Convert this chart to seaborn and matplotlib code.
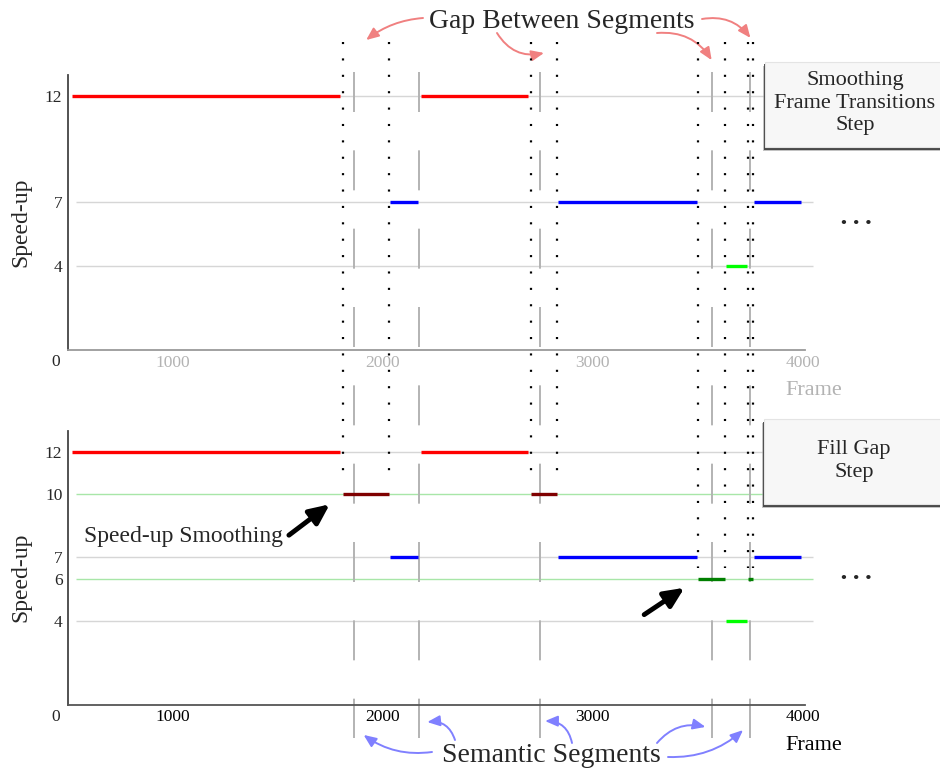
import matplotlib
matplotlib.use("Agg")
import matplotlib.pyplot as plt
import pandas as pd
import seaborn as sns
from matplotlib.patches import Rectangle
from matplotlib.ticker import MultipleLocator

# Semantic segments (frame range) and the speed-up assigned to each
seg_start = [520, 2033, 2180, 2835, 3632, 3765]
seg_end = [1795, 2168, 2690, 3495, 3733, 3992]
seg_speedup = [12, 7, 12, 7, 4, 7]

# Gaps left between segments and the speed-up used to fill them
gap_start = [1810, 2707, 3502, 3737]
gap_end = [2030, 2827, 3629, 3763]
gap_fill = [10, 10, 6, 6]

# Frames where one semantic segment ends and the next begins
boundaries = [1863, 2173, 2748, 3565, 3748]

x_major = [1000, 2000, 3000, 4000]
x_minor = [1500, 2500, 3500]

speed_colors = {12: "#ff0000", 7: "#0000ff", 4: "#00ff00"}
fill_colors = {10: "#7f0000", 6: "#007f00"}

W, H = 940, 771

sns.set_style("white")
plt.rcParams["font.family"] = ["Liberation Serif", "DejaVu Sans"]
plt.rcParams["lines.scale_dashes"] = False
plt.rcParams["lines.solid_capstyle"] = "butt"


def seg_frame(starts, ends, levels, kind):
    rows = []
    for i, (s, e, v) in enumerate(zip(starts, ends, levels)):
        for f in (s, e):
            rows.append({"frame": f, "speedup": v, "key": f"{kind}{v}", "seg": f"{kind}{i}"})
    return pd.DataFrame(rows)


seg_df = seg_frame(seg_start, seg_end, seg_speedup, "s")
fill_df = seg_frame(gap_start, gap_end, gap_fill, "f")
palette = {f"s{k}": c for k, c in speed_colors.items()}
palette.update({f"f{k}": c for k, c in fill_colors.items()})


def fpx(x, y):
    """Figure fraction from a top-left pixel position."""
    return x / W, 1 - y / H


fig = plt.figure(figsize=(W / 100, H / 100), dpi=100)
ax_top = fig.add_axes([68 / W, 1 - 350.5 / H, 737 / W, 275.5 / H])
ax_bot = fig.add_axes([68 / W, 1 - 705 / H, 737 / W, 274 / H])


def style_axes(ax, gray_levels, green_levels, label_color, xspine_color):
    ax.hlines(gray_levels, 540, 4050, colors="#d6d6d6", lw=1.0, zorder=1, clip_on=False)
    if green_levels:
        ax.hlines(green_levels, 540, 4050, colors="#a8e6a8", lw=1.0, zorder=1, clip_on=False)
    for s in ("top", "right"):
        ax.spines[s].set_visible(False)
    ax.spines["left"].set_color("#444444")
    ax.spines["left"].set_linewidth(1.3)
    ax.spines["bottom"].set_color(xspine_color)
    ax.spines["bottom"].set_linewidth(1.3)
    ax.set_yticks(sorted(set(gray_levels) | set(green_levels)))
    ax.yaxis.set_minor_locator(MultipleLocator(1))
    ax.set_xticks(x_major)
    ax.set_xticks(x_minor, minor=True)
    ax.tick_params(which="both", direction="in", length=4, width=1, color="#444444",
                   labelsize=12.5, pad=4)
    ax.tick_params(axis="x", labelcolor=label_color, pad=3)
    ax.set_ylabel("Speed-up", fontsize=17)
    ax.yaxis.set_label_coords(-0.05, 0.466)
    ax.set_xlabel("Frame", fontsize=16, color=label_color)
    ax.xaxis.set_label_coords(1.012, -0.112)
    ax.text(-0.017, -0.043, "0", transform=ax.transAxes, ha="center", va="center",
            fontsize=12.5)


levels = sorted(set(seg_speedup))
style_axes(ax_top, levels, [], "#b3b3b3", "#9a9a9a")
style_axes(ax_bot, levels, sorted(set(gap_fill)), "black", "#555555")

# Speed-up of every segment, before (top) and after (bottom) filling the gaps
sns.lineplot(data=seg_df, x="frame", y="speedup", hue="key", units="seg", estimator=None,
             palette=palette, lw=2.4, legend=False, sort=False, ax=ax_top, zorder=3)
sns.lineplot(data=pd.concat([seg_df, fill_df]), x="frame", y="speedup", hue="key", units="seg",
             estimator=None, palette=palette, lw=2.4, legend=False, sort=False, ax=ax_bot,
             zorder=3)

# Semantic boundaries run through both panels
for b in boundaries:
    ax_bot.plot([b, b], [30.03, -1.565], color="#b3b3b3", lw=1.4, dashes=(28.8, 27.6),
                dash_capstyle="butt", clip_on=False, zorder=2)

# Gap edges, dropped down to the fill speed-up
for s, e, v in zip(gap_start, gap_end, gap_fill):
    for x in (s, e):
        ax_bot.plot([x, x], [31.45, v + 0.5], color="black", lw=1.6, dashes=(1.5, 10.3),
                    dash_capstyle="butt", clip_on=False, zorder=4)

for ax in (ax_top, ax_bot):
    ax.set_xlim(500, 4010)
    ax.set_ylim(0, 13)

# Gap callouts
gap_mid = [(s + e) / 2 for s, e in zip(gap_start, gap_end)]
gap_head_y = [14.65, 14.04, 13.7, 14.75]
gap_tail = [(423, 18), (497, 33), (657, 33), (702, 19)]
gap_rad = [0.15, 0.35, -0.3, -0.3]
for m, hy, t, r in zip(gap_mid, gap_head_y, gap_tail, gap_rad):
    ax_top.annotate("", xy=(m, hy), xycoords="data", xytext=(t[0], H - t[1]),
                    textcoords="figure pixels", annotation_clip=False,
                    arrowprops=dict(arrowstyle="-|>,head_length=0.75,head_width=0.32",
                                    color="#f08080", lw=1.4, shrinkA=0, shrinkB=0,
                                    connectionstyle=f"arc3,rad={r}"))
fig.text(*fpx(561.5, 28), "Gap Between Segments", ha="center", va="baseline", fontsize=20)

# Semantic segment callouts
seg_head_dx = [45, 38, 24, -29, -33]
seg_head_y = [-1.42, -0.81, -0.76, -1.04, -1.19]
seg_tail = [(432, 752), (455, 740), (572, 743), (657, 743), (668, 757)]
seg_rad = [-0.2, 0.4, 0.4, -0.3, 0.2]
for b, dx, hy, t, r in zip(boundaries, seg_head_dx, seg_head_y, seg_tail, seg_rad):
    ax_bot.annotate("", xy=(b + dx, hy), xycoords="data", xytext=(t[0], H - t[1]),
                    textcoords="figure pixels", annotation_clip=False,
                    arrowprops=dict(arrowstyle="-|>,head_length=0.75,head_width=0.32",
                                    color="#8080ff", lw=1.4, shrinkA=0, shrinkB=0,
                                    connectionstyle=f"arc3,rad={r}"))
fig.text(*fpx(551, 762), "Semantic Segments", ha="center", va="baseline", fontsize=20)

# Smoothing arrows
for i, off in ((0, (-39, -29.5)), (2, (-39, -26))):
    ax_bot.annotate("", xy=(gap_start[i], gap_fill[i]), xytext=off, textcoords="offset points",
                    annotation_clip=False,
                    arrowprops=dict(arrowstyle="-|>,head_length=1.2,head_width=0.55",
                                    color="black", lw=3.5, shrinkA=0, shrinkB=12,
                                    mutation_scale=10))
fig.text(*fpx(184, 542), "Speed-up Smoothing", ha="center", va="baseline", fontsize=17)


def step_box(x0, y0, y1, text, cx, cy):
    width = (W - x0 + 10) / W
    height = (y1 - y0) / H
    for dx, dy, col, a in ((-2, 4, "#9a9a9a", 0.6), (-1, 2.5, "#3c3c3c", 0.9)):
        fig.add_artist(Rectangle(fpx(x0 + dx, y1 + dy), width, height,
                                 transform=fig.transFigure, facecolor=col,
                                 edgecolor="none", alpha=a, zorder=5))
    fig.add_artist(Rectangle(fpx(x0, y1), width, height, transform=fig.transFigure,
                             facecolor="#f7f7f7", edgecolor="#e4e4e4", lw=0.8, zorder=6))
    fig.text(*fpx(cx, cy), text, ha="center", va="center", fontsize=16, linespacing=1.22,
             multialignment="center", zorder=7)


step_box(765, 62, 147, "Smoothing\nFrame Transitions\nStep", 855, 103)
step_box(764, 419, 504, "Fill Gap\nStep", 854, 461)

for y in (223, 578):
    fig.text(*fpx(856, y), "\u2022 \u2022 \u2022", family="DejaVu Sans", fontsize=9,
             fontweight="bold", ha="center", va="center")

fig.savefig("out.png", dpi=100)
